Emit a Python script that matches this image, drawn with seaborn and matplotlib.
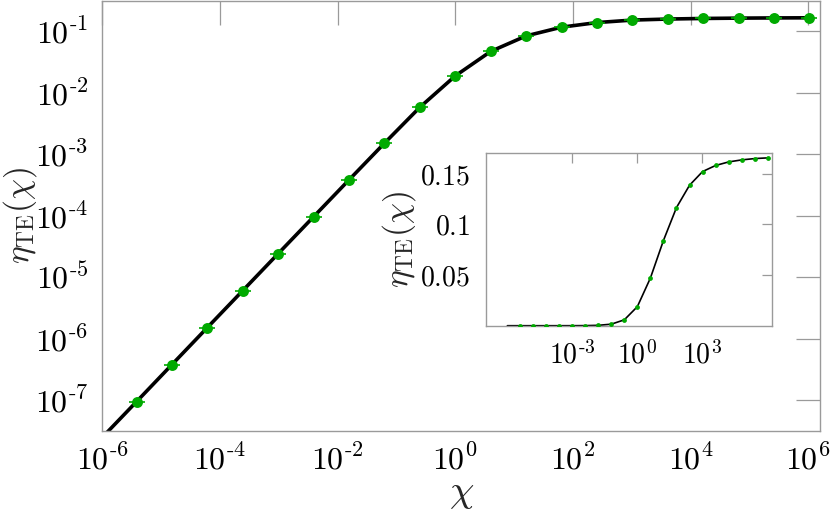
import numpy as np
import pandas as pd
import matplotlib
matplotlib.use("Agg")
import matplotlib.pyplot as plt
import seaborn as sns
from matplotlib.ticker import FixedLocator, FixedFormatter, NullLocator

# ---- data ----
chi_points = [3.815e-6, 1.526e-5, 6.104e-5, 2.441e-4, 9.766e-4, 3.906e-3,
              1.5625e-2, 6.25e-2, 0.25, 1.0, 4.0, 16.0, 64.0, 256.0, 1024.0,
              4096.0, 16384.0, 65536.0, 262144.0, 1048576.0]
eta_points = [9.4e-8, 3.77e-7, 1.51e-6, 6.03e-6, 2.41e-5, 9.6e-5, 3.82e-4,
              1.51e-3, 5.8e-3, 0.0188, 0.047, 0.084, 0.1165, 0.1385, 0.152,
              0.158, 0.1615, 0.1635, 0.1648, 0.1655]
chi_curve = [1.0e-6] + chi_points
eta_curve = [2.47e-8] + eta_points

main_xticks = [1e-6, 1e-4, 1e-2, 1e0, 1e2, 1e4, 1e6]
main_xticklabels = [r"$10^{\text{-}6}$", r"$10^{\text{-}4}$", r"$10^{\text{-}2}$",
                    r"$10^{0}$", r"$10^{2}$", r"$10^{4}$", r"$10^{6}$"]
main_yticks = [1e-7, 1e-6, 1e-5, 1e-4, 1e-3, 1e-2, 1e-1]
main_yticklabels = [r"$10^{\text{-}7}$", r"$10^{\text{-}6}$", r"$10^{\text{-}5}$",
                    r"$10^{\text{-}4}$", r"$10^{\text{-}3}$", r"$10^{\text{-}2}$",
                    r"$10^{\text{-}1}$"]
inset_xticks = [1e-3, 1e0, 1e3]
inset_xticklabels = [r"$10^{\text{-}3}$", r"$10^{0}$", r"$10^{3}$"]
inset_yticks = [0.05, 0.1, 0.15]
inset_yticklabels = [r"$0.05$", r"$0.1$", r"$0.15$"]

df_curve = pd.DataFrame({"chi": chi_curve, "eta": eta_curve})
df_pts = pd.DataFrame({"chi": chi_points, "eta": eta_points})

sns.set_theme(style="white")
plt.rcParams["mathtext.fontset"] = "cm"
plt.rcParams["font.family"] = ["DejaVu Serif"]

GREEN = "#00aa00"
GRAY = "#9a9a9a"

fig = plt.figure(figsize=(8.3, 5.25), dpi=100)
ax = fig.add_axes([0.1233, 0.1796, 0.8647, 0.8194])
ax.set_xscale("log")
ax.set_yscale("log")

sns.lineplot(data=df_curve, x="chi", y="eta", ax=ax, color="black", lw=2.6,
             sort=False, estimator=None, zorder=2)
sns.scatterplot(data=df_pts, x="chi", y="eta", ax=ax, marker="_", s=140,
                color=GREEN, linewidth=1.2, zorder=3)
sns.scatterplot(data=df_pts, x="chi", y="eta", ax=ax, marker="o", s=62,
                color=GREEN, edgecolor=GREEN, linewidth=0, zorder=4)

ax.set_xlim(1e-6, 10 ** 6.2)
ax.set_ylim(10 ** -7.5, 10 ** -0.5)
ax.xaxis.set_major_locator(FixedLocator(main_xticks))
ax.xaxis.set_major_formatter(FixedFormatter(main_xticklabels))
ax.yaxis.set_major_locator(FixedLocator(main_yticks))
ax.yaxis.set_major_formatter(FixedFormatter(main_yticklabels))
ax.xaxis.set_minor_locator(NullLocator())
ax.yaxis.set_minor_locator(NullLocator())
ax.tick_params(axis="both", which="major", direction="in", length=17, width=0.9,
               color=GRAY, top=True, right=True, labelsize=23, pad=10,
               labelcolor="black")
for sp in ax.spines.values():
    sp.set_color(GRAY)
    sp.set_linewidth(1.0)
ax.set_xlabel(r"$\chi$", fontsize=28)
ax.set_ylabel(r"$\eta_{\mathrm{TE}}(\chi)$", fontsize=24)
ax.xaxis.set_label_coords(0.5, -0.1)
ax.yaxis.set_label_coords(-0.088, 0.5)

# ---- inset ----
ax2 = fig.add_axes([0.5852, 0.3796, 0.3453, 0.3284])
ax2.set_facecolor("white")
ax2.set_xscale("log")
sns.lineplot(data=df_curve, x="chi", y="eta", ax=ax2, color="black", lw=1.2,
             sort=False, estimator=None, zorder=2)
sns.scatterplot(data=df_pts, x="chi", y="eta", ax=ax2, marker="o", s=12,
                color=GREEN, edgecolor=GREEN, linewidth=0, zorder=3)
ax2.set_xlim(1e-7, 10 ** 6.23)
ax2.set_ylim(0, 0.17)
ax2.xaxis.set_major_locator(FixedLocator(inset_xticks))
ax2.xaxis.set_major_formatter(FixedFormatter(inset_xticklabels))
ax2.yaxis.set_major_locator(FixedLocator(inset_yticks))
ax2.yaxis.set_major_formatter(FixedFormatter(inset_yticklabels))
ax2.xaxis.set_minor_locator(NullLocator())
ax2.yaxis.set_minor_locator(NullLocator())
ax2.tick_params(axis="both", which="major", direction="in", length=7, width=0.9,
                color=GRAY, top=True, right=True, labelsize=20, pad=11,
                labelcolor="black")
for sp in ax2.spines.values():
    sp.set_color(GRAY)
    sp.set_linewidth(1.0)
ax2.set_xlabel("")
ax2.set_ylabel(r"$\eta_{\mathrm{TE}}(\chi)$", fontsize=24)
ax2.yaxis.set_label_coords(-0.236, 0.5)

fig.savefig("out.png", dpi=100)
